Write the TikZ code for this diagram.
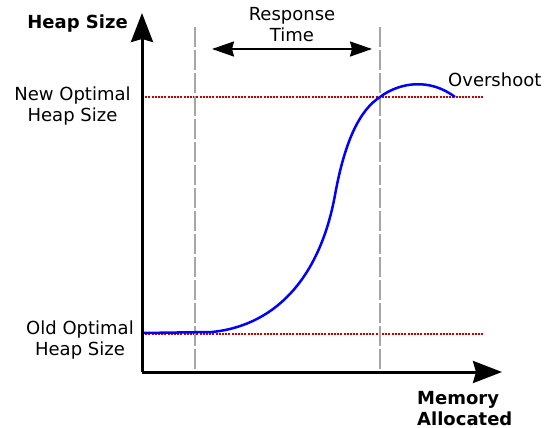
\documentclass[tikz,border=0pt]{standalone}
\usepackage{fontspec}
\setmainfont{DejaVu Sans}
\usetikzlibrary{arrows.meta}

\tikzset{
	axis/.style={line width=3pt, -{Stealth[length=29pt,width=22pt,inset=3pt]}},
	level/.style={line width=2.4pt, red!80!black, dash pattern=on 2pt off 1.2pt},
	marker/.style={line width=2pt, black!35, dash pattern=on 20pt off 3pt},
	label/.style={inner sep=0pt, font=\fontsize{18}{21}\selectfont}
}

\begin{document}
\begin{tikzpicture}[x=1pt, y=-1pt]
	
	\useasboundingbox (0,0) rectangle (547,428);
	
	\coordinate (o) at (142,372);
	\coordinate (ytop) at (142,13);
	\coordinate (xend) at (502,372);
	\coordinate (newl) at (142,97);
	\coordinate (newr) at (483,97);
	\coordinate (oldl) at (142,334);
	\coordinate (oldr) at (483,334);
	\coordinate (ta) at (195,27);
	\coordinate (tb) at (195,372);
	\coordinate (tc) at (380,27);
	\coordinate (td) at (380,372);
	\coordinate (s0) at (142,333);
	\coordinate (s1) at (212,332);
	\coordinate (s2) at (335,195);
	\coordinate (s3) at (380,97);
	\coordinate (s4) at (455,97);
	\coordinate (ra) at (212,49);
	\coordinate (rb) at (372,49);
	
	\draw[level] (newl) -- (newr);
	\draw[level] (oldl) -- (oldr);
	\draw[marker] (ta) -- (tb);
	\draw[marker] (tc) -- (td);
	
	\draw[blue, line width=2.5pt] (s0) -- (s1)
		.. controls (280,325) and (321,272) .. (s2)
		.. controls (345,140) and (360,110) .. (s3)
		.. controls (400,82) and (430,78) .. (s4);
	
	\draw[axis] (o) -- (ytop);
	\draw[axis] (o) -- (xend);
	\draw[line width=2pt, {Stealth[length=22pt,width=15pt,inset=2pt]}-{Stealth[length=22pt,width=15pt,inset=2pt]}] (ra) -- (rb);
	
	\node[label, anchor=base east, font=\fontsize{18}{21}\selectfont\bfseries] (ylab) at (128,29) {Heap Size};
	\node[label, anchor=base, align=center] (newlab) at (72.5,122) {New Optimal\\Heap Size};
	\node[label, anchor=base, align=center] (oldlab) at (80,355) {Old Optimal\\Heap Size};
	\node[label, anchor=base, align=center] (resp) at (292,42) {Response\\Time};
	\node[label, anchor=base west] (over) at (448,87) {Overshoot};
	\node[label, anchor=base west, align=left, font=\fontsize{18}{21}\selectfont\bfseries] (xlab) at (417,425) {Memory\\Allocated};
	
\end{tikzpicture}
\end{document}
